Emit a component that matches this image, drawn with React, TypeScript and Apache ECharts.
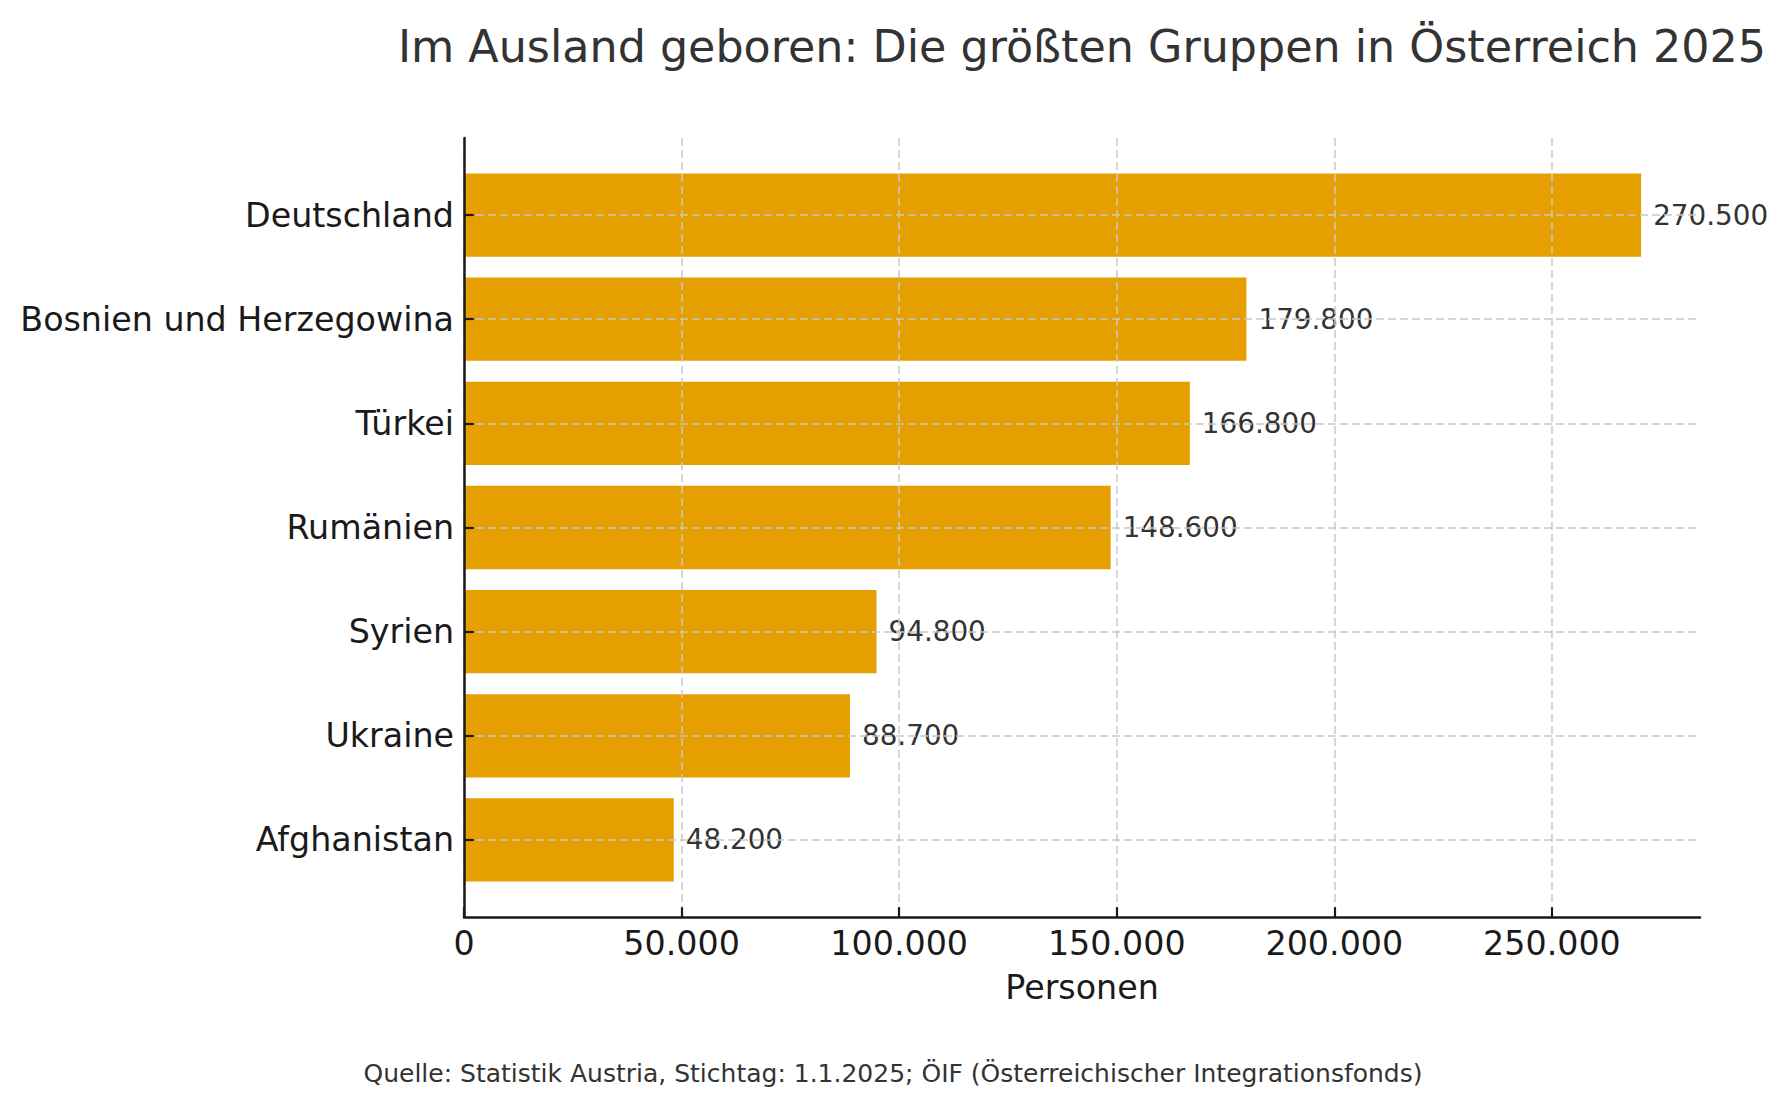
import React, { useEffect, useRef } from "react";
import * as echarts from "echarts";

const countries = [
  "Deutschland",
  "Bosnien und Herzegowina",
  "Türkei",
  "Rumänien",
  "Syrien",
  "Ukraine",
  "Afghanistan",
];
const persons = [270500, 179800, 166800, 148600, 94800, 88700, 48200];
const xTicks = [0, 50000, 100000, 150000, 200000, 250000];
const xMax = 284025;

const titleText = "Im Ausland geboren: Die größten Gruppen in Österreich 2025";
const sourceText =
  "Quelle: Statistik Austria, Stichtag: 1.1.2025; ÖIF (Österreichischer Integrationsfonds)";
const axisName = "Personen";

const FONT = "DejaVu Sans";
const W = 1787;
const H = 1107;

const fmt = (v: number) =>
  String(Math.round(v)).replace(/\B(?=(\d{3})+(?!\d))/g, ".");

export default function App() {
  const ref = useRef<HTMLDivElement>(null);

  useEffect(() => {
    document.body.style.margin = "0";
    const chart = echarts.init(ref.current!, null, { renderer: "svg" });

    const dashed = { color: "#c8c8c8", width: 1.5, type: [8, 4] as any };

    chart.setOption({
      animation: false,
      backgroundColor: "#ffffff",
      textStyle: { fontFamily: FONT },
      grid: [
        // band area for the bars
        { left: 464, right: 87, top: 163, bottom: 215, containLabel: false },
        // full frame with the spines
        { left: 464, right: 87, top: 138, bottom: 190, containLabel: false },
      ],
      xAxis: [
        {
          gridIndex: 0,
          type: "value",
          min: 0,
          max: xMax,
          show: false,
        },
        {
          gridIndex: 1,
          type: "value",
          min: 0,
          max: xMax,
          interval: 50000,
          z: 5,
          axisLine: { show: true, lineStyle: { color: "#1a1a1a", width: 2.5 } },
          axisTick: {
            show: true,
            inside: true,
            length: 9.7,
            lineStyle: { color: "#1a1a1a", width: 2.2 },
            customValues: xTicks,
          },
          axisLabel: {
            fontSize: 33.3,
            color: "#1a1a1a",
            fontFamily: FONT,
            margin: 10,
            customValues: xTicks,
            formatter: (v: number) => (v % 50000 === 0 ? fmt(v) : ""),
          },
          splitLine: { show: true, lineStyle: dashed },
          name: axisName,
          nameLocation: "middle",
          nameGap: 54,
          nameTextStyle: { fontSize: 33.3, color: "#1a1a1a", fontFamily: FONT },
        },
      ],
      yAxis: [
        {
          gridIndex: 0,
          type: "category",
          data: countries,
          inverse: true,
          z: 5,
          axisLine: { show: false },
          axisTick: {
            show: true,
            inside: true,
            length: 9.7,
            alignWithLabel: true,
            lineStyle: { color: "#1a1a1a", width: 2.2 },
          },
          axisLabel: {
            fontSize: 33.3,
            color: "#1a1a1a",
            fontFamily: FONT,
            margin: 10,
          },
          splitLine: {
            show: true,
            alignWithLabel: true,
            lineStyle: dashed,
          },
        },
        {
          gridIndex: 1,
          type: "value",
          min: 0,
          max: 1,
          z: 5,
          axisLine: { show: true, onZero: false, lineStyle: { color: "#1a1a1a", width: 2.5 } },
          axisTick: { show: false },
          axisLabel: { show: false },
          splitLine: { show: false },
        },
      ],
      series: [
        {
          type: "bar",
          xAxisIndex: 0,
          yAxisIndex: 0,
          data: persons,
          barWidth: "80%",
          itemStyle: { color: "#E69F00" },
          label: {
            show: true,
            position: "right",
            distance: 12,
            fontSize: 27.8,
            color: "#333333",
            fontFamily: FONT,
            formatter: (p: any) => fmt(p.value),
          },
        },
      ],
      graphic: [
        {
          type: "text",
          x: 1082,
          y: 46,
          style: {
            text: titleText,
            fontSize: 44.4,
            fontFamily: FONT,
            fill: "#333333",
            textAlign: "center",
            textVerticalAlign: "middle",
          },
        },
        {
          type: "text",
          x: 893,
          y: 1073,
          style: {
            text: sourceText,
            fontSize: 25,
            fontFamily: FONT,
            fill: "#333333",
            textAlign: "center",
            textVerticalAlign: "middle",
          },
        },
      ],
    });

    return () => chart.dispose();
  }, []);

  return <div ref={ref} style={{ width: W, height: H }} />;
}
